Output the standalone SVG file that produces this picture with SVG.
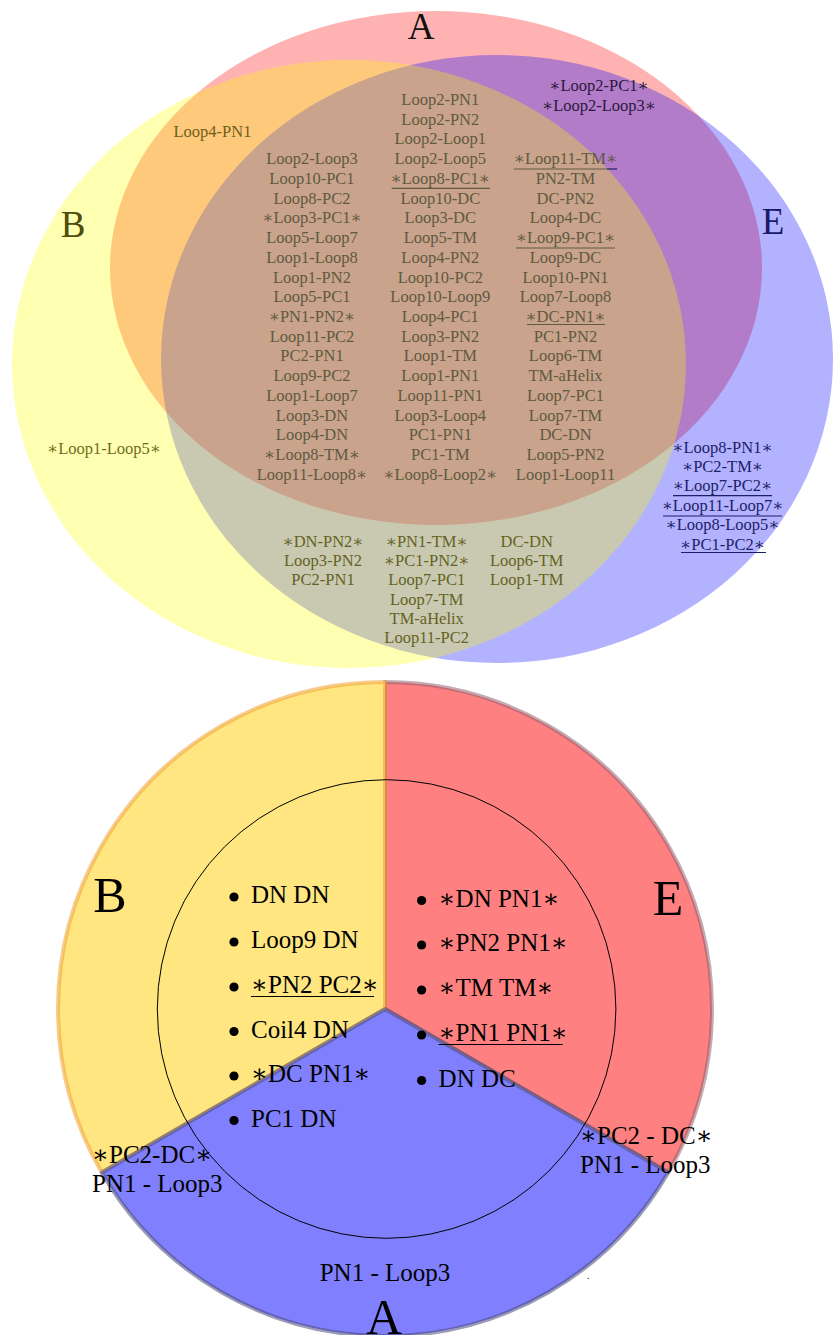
<svg xmlns="http://www.w3.org/2000/svg" width="833" height="1335" viewBox="0 0 833 1335">
<style>
.v{font-family:'Liberation Serif','DejaVu Serif',serif;font-size:16.5px;text-anchor:middle}
.k3{fill:#5f5a41}.kbe{fill:#63631f}.kb{fill:#6e6e1c}.kab{fill:#6e601a}.ke{fill:#1e1e66}.ka{fill:#2a1a3c}
.big{font-family:'Liberation Serif','DejaVu Serif',serif;text-anchor:middle}
.p{font-family:'Liberation Serif','DejaVu Serif',serif;font-size:25px;fill:#000}
.u3{stroke:#5f5a41;stroke-width:1.2}
.ue{stroke:#1e1e66;stroke-width:1.2}
.uk{stroke:#000;stroke-width:1.2}
</style>
<rect width="833" height="1335" fill="#fff"/>
<g id="venn-sets">
  <ellipse id="set-A" cx="436" cy="268" rx="326" ry="257" fill="#ff0000" fill-opacity="0.3"/>
  <ellipse id="set-E" cx="497" cy="359" rx="336" ry="304" fill="#0000ff" fill-opacity="0.3"/>
  <ellipse id="set-B" cx="349" cy="364" rx="337" ry="304" fill="#ffff00" fill-opacity="0.3"/>
</g>
<g id="venn-labels">
  <text class="big" x="421" y="39" font-size="37" fill="#111">A</text>
  <text class="big" x="73" y="237" font-size="37" fill="#4d4d0d">B</text>
  <text class="big" x="773" y="234" font-size="37" fill="#1a1a66">E</text>
</g>
<g id="region-A-only" class="v ka">
  <text x="599" y="91">∗Loop2-PC1∗</text>
  <text x="599" y="110.7">∗Loop2-Loop3∗</text>
</g>
<g id="region-AB" class="v kab">
  <text x="212.5" y="137.3">Loop4-PN1</text>
</g>
<g id="region-B-only" class="v kb">
  <text x="104" y="454">∗Loop1-Loop5∗</text>
</g>
<g id="region-ABE-col1" class="v k3">
  <text x="312" y="164.2">Loop2-Loop3</text>
  <text x="312" y="183.9">Loop10-PC1</text>
  <text x="312" y="203.6">Loop8-PC2</text>
  <text x="312" y="223.3">∗Loop3-PC1∗</text>
  <text x="312" y="243">Loop5-Loop7</text>
  <text x="312" y="262.8">Loop1-Loop8</text>
  <text x="312" y="282.5">Loop1-PN2</text>
  <text x="312" y="302.2">Loop5-PC1</text>
  <text x="312" y="321.9">∗PN1-PN2∗</text>
  <text x="312" y="341.6">Loop11-PC2</text>
  <text x="312" y="361.4">PC2-PN1</text>
  <text x="312" y="381.1">Loop9-PC2</text>
  <text x="312" y="400.8">Loop1-Loop7</text>
  <text x="312" y="420.5">Loop3-DN</text>
  <text x="312" y="440.2">Loop4-DN</text>
  <text x="312" y="460">∗Loop8-TM∗</text>
  <text x="312" y="479.7">Loop11-Loop8∗</text>
</g>
<g id="region-ABE-col2" class="v k3">
  <text x="440.3" y="105">Loop2-PN1</text>
  <text x="440.3" y="124.7">Loop2-PN2</text>
  <text x="440.3" y="144.4">Loop2-Loop1</text>
  <text x="440.3" y="164.2">Loop2-Loop5</text>
  <text x="440.3" y="183.9">∗Loop8-PC1∗</text>
  <text x="440.3" y="203.6">Loop10-DC</text>
  <text x="440.3" y="223.3">Loop3-DC</text>
  <text x="440.3" y="243">Loop5-TM</text>
  <text x="440.3" y="262.8">Loop4-PN2</text>
  <text x="440.3" y="282.5">Loop10-PC2</text>
  <text x="440.3" y="302.2">Loop10-Loop9</text>
  <text x="440.3" y="321.9">Loop4-PC1</text>
  <text x="440.3" y="341.6">Loop3-PN2</text>
  <text x="440.3" y="361.4">Loop1-TM</text>
  <text x="440.3" y="381.1">Loop1-PN1</text>
  <text x="440.3" y="400.8">Loop11-PN1</text>
  <text x="440.3" y="420.5">Loop3-Loop4</text>
  <text x="440.3" y="440.2">PC1-PN1</text>
  <text x="440.3" y="460">PC1-TM</text>
  <text x="440.3" y="479.7">∗Loop8-Loop2∗</text>
  <line class="u3" x1="391.7" y1="188.3" x2="490" y2="188.3"/>
</g>
<g id="region-ABE-col3" class="v k3">
  <text x="565.5" y="164.2">∗Loop11-TM∗</text>
  <text x="565.5" y="183.9">PN2-TM</text>
  <text x="565.5" y="203.6">DC-PN2</text>
  <text x="565.5" y="223.3">Loop4-DC</text>
  <text x="565.5" y="243">∗Loop9-PC1∗</text>
  <text x="565.5" y="262.8">Loop9-DC</text>
  <text x="565.5" y="282.5">Loop10-PN1</text>
  <text x="565.5" y="302.2">Loop7-Loop8</text>
  <text x="565.5" y="321.9">∗DC-PN1∗</text>
  <text x="565.5" y="341.6">PC1-PN2</text>
  <text x="565.5" y="361.4">Loop6-TM</text>
  <text x="565.5" y="381.1">TM-aHelix</text>
  <text x="565.5" y="400.8">Loop7-PC1</text>
  <text x="565.5" y="420.5">Loop7-TM</text>
  <text x="565.5" y="440.2">DC-DN</text>
  <text x="565.5" y="460">Loop5-PN2</text>
  <text x="565.5" y="479.7">Loop1-Loop11</text>
  <line class="u3" x1="514" y1="169" x2="607" y2="169"/>
  <line class="ue" x1="607" y1="169" x2="617" y2="169"/>
  <line class="u3" x1="516" y1="248" x2="615" y2="248"/>
  <line class="u3" x1="527" y1="324.5" x2="605" y2="324.5"/>
</g>
<g id="region-E-only" class="v ke">
  <text x="722.5" y="453.3">∗Loop8-PN1∗</text>
  <text x="722.5" y="472.3">∗PC2-TM∗</text>
  <text x="722.5" y="491">∗Loop7-PC2∗</text>
  <text x="722.5" y="511">∗Loop11-Loop7∗</text>
  <text x="722.5" y="530">∗Loop8-Loop5∗</text>
  <text x="722.5" y="550">∗PC1-PC2∗</text>
  <line class="ue" x1="673" y1="495.7" x2="772" y2="495.7"/>
  <line class="ue" x1="663" y1="516" x2="782" y2="516"/>
  <line class="ue" x1="681" y1="552.5" x2="766" y2="552.5"/>
</g>
<g id="region-BE" class="v kbe">
  <text x="323" y="547.3">∗DN-PN2∗</text>
  <text x="323" y="566.3">Loop3-PN2</text>
  <text x="323" y="585.3">PC2-PN1</text>
  <text x="426.7" y="547.3">∗PN1-TM∗</text>
  <text x="426.7" y="566.3">∗PC1-PN2∗</text>
  <text x="426.7" y="585.3">Loop7-PC1</text>
  <text x="426.7" y="604.7">Loop7-TM</text>
  <text x="426.7" y="624">TM-aHelix</text>
  <text x="426.7" y="643">Loop11-PC2</text>
  <text x="526.7" y="547.3">DC-DN</text>
  <text x="526.7" y="566.3">Loop6-TM</text>
  <text x="526.7" y="585.3">Loop1-TM</text>
</g>
<g id="pie">
  <path id="sector-E" d="M385 1009 L385 682 A327 327 0 0 1 668.2 1172.5 Z" fill="#ff8080" stroke="#8a5a6a" stroke-opacity="0.5" stroke-width="4" stroke-linejoin="round"/>
  <path id="sector-B" d="M385 1009 L101.8 1172.5 A327 327 0 0 1 385 682 Z" fill="#ffe680" stroke="#f0a030" stroke-opacity="0.55" stroke-width="4" stroke-linejoin="round"/>
  <path id="sector-A" d="M385 1009 L668.2 1172.5 A327 327 0 0 1 101.8 1172.5 Z" fill="#8080ff" stroke="#4a4a7a" stroke-opacity="0.55" stroke-width="4" stroke-linejoin="round"/>
  <circle id="inner-circle" cx="386.6" cy="1009" r="229.3" fill="none" stroke="#000" stroke-width="1"/>
</g>
<g id="pie-labels">
  <text class="big" x="110" y="912" font-size="50" fill="#000">B</text>
  <text class="big" x="668" y="915" font-size="50" fill="#000">E</text>
  <text class="big" x="384" y="1334" font-size="50" fill="#000">A</text>
</g>
<g id="list-B" class="p">
  <circle cx="234" cy="897" r="4.6"/><text x="251" y="903.3">DN DN</text>
  <circle cx="234" cy="942" r="4.6"/><text x="251" y="948.3">Loop9 DN</text>
  <circle cx="234" cy="987" r="4.6"/><text x="251" y="993.3">∗PN2 PC2∗</text>
  <line class="uk" x1="251" y1="996.5" x2="374" y2="996.5"/>
  <circle cx="234" cy="1031.5" r="4.6"/><text x="251" y="1037.7">Coil4 DN</text>
  <circle cx="234" cy="1076" r="4.6"/><text x="251" y="1082">∗DC PN1∗</text>
  <circle cx="234" cy="1120.5" r="4.6"/><text x="251" y="1126.7">PC1 DN</text>
</g>
<g id="list-E" class="p">
  <circle cx="421.6" cy="900.5" r="4.6"/><text x="438.6" y="906.7">∗DN PN1∗</text>
  <circle cx="421.6" cy="945" r="4.6"/><text x="438.6" y="951">∗PN2 PN1∗</text>
  <circle cx="421.6" cy="990" r="4.6"/><text x="438.6" y="996">∗TM TM∗</text>
  <circle cx="421.6" cy="1035" r="4.6"/><text x="438.6" y="1041">∗PN1 PN1∗</text>
  <line class="uk" x1="438.6" y1="1044.5" x2="562.7" y2="1044.5"/>
  <circle cx="421.6" cy="1080.5" r="4.6"/><text x="438.6" y="1086.7">DN DC</text>
</g>
<g id="edge-labels" class="p">
  <text x="92" y="1163.3">∗PC2-DC∗</text>
  <text x="92" y="1192">PN1 - Loop3</text>
  <text x="580" y="1144">∗PC2 - DC∗</text>
  <text x="580" y="1172.7">PN1 - Loop3</text>
  <text x="385" y="1280.7" text-anchor="middle">PN1 - Loop3</text>
  <text x="587" y="1279" font-size="10">.</text>
</g>
</svg>
